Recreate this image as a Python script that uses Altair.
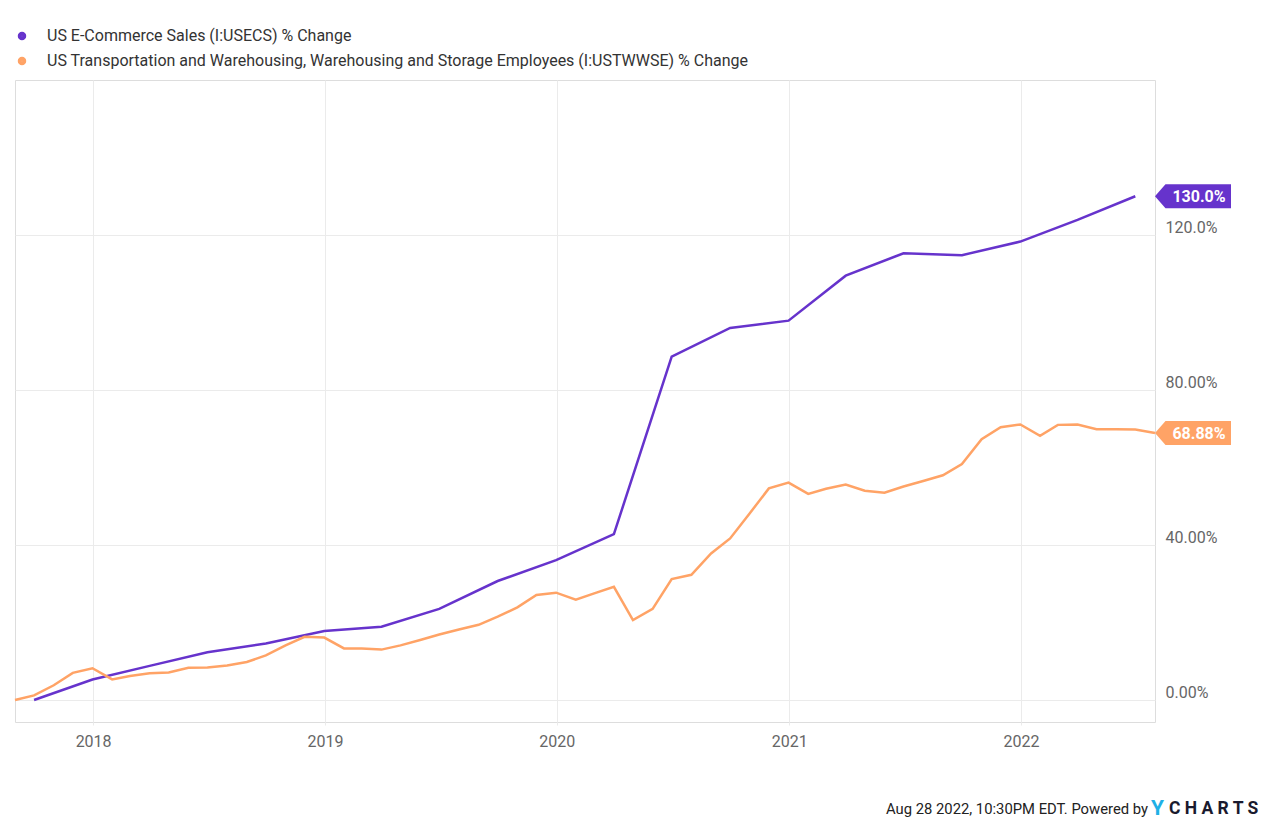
import altair as alt
import pandas as pd

ECOM_NAME = "US E-Commerce Sales (I:USECS) % Change"
WARE_NAME = "US Transportation and Warehousing, Warehousing and Storage Employees (I:USTWWSE) % Change"
PURPLE = "#6633cc"
ORANGE = "#ffa366"

# Quarterly e-commerce sales, % change since start
ecom_dates = [
    "2017-09-30", "2017-12-31", "2018-03-31", "2018-06-30", "2018-09-30",
    "2018-12-31", "2019-03-31", "2019-06-30", "2019-09-30", "2019-12-31",
    "2020-03-31", "2020-06-30", "2020-09-30", "2020-12-31", "2021-03-31",
    "2021-06-30", "2021-09-30", "2021-12-31", "2022-03-31", "2022-06-30",
]
ecom_values = [
    0.0, 5.3, 8.8, 12.3, 14.6,
    17.8, 18.9, 23.5, 30.7, 36.1,
    42.8, 88.6, 96.0, 97.9, 109.5,
    115.3, 114.8, 118.3, 123.9, 130.0,
]

# Monthly warehousing employees, % change since start
ware_dates = [
    "2017-08-31", "2017-09-30", "2017-10-31", "2017-11-30", "2017-12-31",
    "2018-01-31", "2018-02-28", "2018-03-31", "2018-04-30", "2018-05-31", "2018-06-30",
    "2018-07-31", "2018-08-31", "2018-09-30", "2018-10-31", "2018-11-30", "2018-12-31",
    "2019-01-31", "2019-02-28", "2019-03-31", "2019-04-30", "2019-05-31", "2019-06-30",
    "2019-07-31", "2019-08-31", "2019-09-30", "2019-10-31", "2019-11-30", "2019-12-31",
    "2020-01-31", "2020-02-29", "2020-03-31", "2020-04-30", "2020-05-31", "2020-06-30",
    "2020-07-31", "2020-08-31", "2020-09-30", "2020-10-31", "2020-11-30", "2020-12-31",
    "2021-01-31", "2021-02-28", "2021-03-31", "2021-04-30", "2021-05-31", "2021-06-30",
    "2021-07-31", "2021-08-31", "2021-09-30", "2021-10-31", "2021-11-30", "2021-12-31",
    "2022-01-31", "2022-02-28", "2022-03-31", "2022-04-30", "2022-05-31", "2022-06-30",
    "2022-07-31",
]
ware_values = [
    0.0, 1.2, 3.8, 7.0, 8.2,
    5.3, 6.2, 6.9, 7.1, 8.3, 8.4,
    8.9, 9.8, 11.5, 14.1, 16.3, 16.1,
    13.3, 13.3, 13.0, 14.1, 15.5, 16.9,
    18.2, 19.4, 21.5, 23.9, 27.1, 27.7,
    25.9, 27.5, 29.2, 20.6, 23.5, 31.2,
    32.3, 37.8, 41.7, 48.2, 54.6, 56.1,
    53.2, 54.5, 55.6, 54.0, 53.5, 55.1,
    56.5, 58.0, 60.9, 67.3, 70.4, 71.1,
    68.2, 71.0, 71.1, 69.9, 69.9, 69.8,
    68.88,
]

y_ticks = [0, 40, 80, 120]
year_ticks = [2018, 2019, 2020, 2021, 2022]

df = pd.concat([
    pd.DataFrame({"date": ecom_dates, "value": ecom_values, "series": ECOM_NAME}),
    pd.DataFrame({"date": ware_dates, "value": ware_values, "series": WARE_NAME}),
])

end_date = ware_dates[-1]
tags = pd.DataFrame({
    "date": [end_date, end_date],
    "value": [ecom_values[-1], ware_values[-1]],
    "color": [PURPLE, ORANGE],
})

x_scale = alt.Scale(
    type="utc",
    domain=[alt.DateTime(year=2017, month=8, date=31, utc=True),
            alt.DateTime(year=2022, month=7, date=31, utc=True)],
)
y_scale = alt.Scale(domain=[-5.68, 160], nice=False, zero=False)

x_enc = alt.X(
    "date:T", scale=x_scale, title=None,
    axis=alt.Axis(
        values=[alt.DateTime(year=y, month=1, date=1, utc=True) for y in year_ticks],
        format="%Y", formatType="utc",
        grid=True, gridColor="#ebebeb", domain=False,
        ticks=True, tickSize=3, tickColor="#ebebeb",
        labelFontSize=16, labelColor="#666666", labelPadding=8,
        labelBaseline="top", labelFont="Roboto",
    ),
)
y_enc = alt.Y(
    "value:Q", scale=y_scale, title=None,
    axis=alt.Axis(
        orient="right", values=y_ticks,
        labelExpr="datum.value == 120 ? '120.0%' : (datum.value == 0 ? '0.00%' : format(datum.value, '.2f') + '%')",
        grid=True, gridColor="#ebebeb", domain=False, ticks=False,
        labelAlign="left", labelBaseline="middle", labelOffset=-7,
        labelPadding=10, labelFontSize=16, labelColor="#666666", labelFont="Roboto",
    ),
)

lines = alt.Chart(df).mark_line(strokeWidth=2.5).encode(
    x=x_enc,
    y=y_enc,
    color=alt.Color(
        "series:N",
        scale=alt.Scale(domain=[ECOM_NAME, WARE_NAME], range=[PURPLE, ORANGE]),
        legend=alt.Legend(
            title=None, orient="none", legendX=-1, legendY=-52,
            symbolType="circle", symbolSize=20, symbolStrokeWidth=4,
            labelFontSize=16, labelColor="#333333", labelFont="Roboto",
            labelOffset=17, rowPadding=3, labelLimit=1000,
        ),
    ),
)

tag_path = "M-1,0 L-0.724,-0.316 L1,-0.316 L1,0.316 L-0.724,0.316 Z"
tag_shapes = alt.Chart(tags).mark_point(
    shape=tag_path, size=76 * 76, filled=True, opacity=1, strokeWidth=0, xOffset=38,
).encode(
    x=alt.X("date:T", scale=x_scale),
    y=alt.Y("value:Q", scale=y_scale),
    color=alt.Color("color:N", scale=None),
)
tag_text = alt.Chart(tags).transform_calculate(
    label="format(datum.value, '.4r') + '%'"
).mark_text(
    color="white", fontWeight="bold", fontSize=16, font="Roboto",
    align="center", baseline="middle", xOffset=44, dy=1,
).encode(
    x=alt.X("date:T", scale=x_scale),
    y=alt.Y("value:Q", scale=y_scale),
    text="label:N",
)

footer_df = pd.DataFrame({"t": ["Aug 28 2022, 10:30PM EDT. Powered by"]})
footer = alt.Chart(footer_df).mark_text(
    align="right", baseline="alphabetic", fontSize=14.8, font="Roboto", color="#222222",
).encode(x=alt.value(1133), y=alt.value(734), text="t:N")

logo_y = alt.Chart(pd.DataFrame({"t": ["Y"]})).mark_text(
    align="left", baseline="alphabetic", fontSize=21, font="Roboto",
    fontWeight="bold", color="#1fb0e6",
).encode(x=alt.value(1136), y=alt.value(735), text="t:N")

logo_c = alt.Chart(pd.DataFrame({"t": ["C H A R T S"]})).mark_text(
    align="left", baseline="alphabetic", fontSize=17.5, font="Roboto",
    fontWeight="bold", color="#1a1a2e",
).encode(x=alt.value(1154), y=alt.value(734), text="t:N")

chart = alt.layer(lines, tag_shapes, tag_text, footer, logo_y, logo_c).properties(
    width=1140, height=642,
    padding={"left": 7, "top": 72, "right": 117, "bottom": 104},
    autosize=alt.AutoSizeParams(type="none"),
).configure_view(
    stroke="#dddddd", strokeWidth=1,
).configure(
    font="Roboto", background="white",
)

chart.save("out.html", embed_options={"renderer": "svg", "actions": False})
